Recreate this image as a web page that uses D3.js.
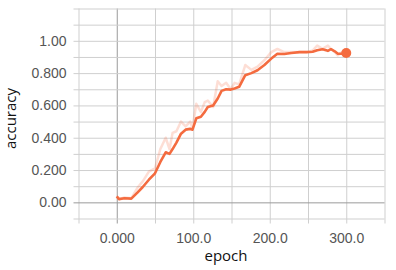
<!DOCTYPE html>
<html>
<head>
<meta charset="utf-8">
<script src="https://cdn.jsdelivr.net/npm/d3@7"></script>
<style>
	body { margin: 0; background: #fff; }
	svg text { font-family: "Liberation Sans", Arial, sans-serif; }
</style>
</head>
<body>
<div id="chart"></div>
<script>
	// values
	var epochs = [0, 3, 10, 19, 27, 34, 42, 50, 57, 64, 69, 73, 78, 84, 90, 96, 99, 104, 110, 115, 119, 126, 132, 137, 143, 149, 154, 160, 168, 176, 184, 193, 202, 210, 219, 228, 239, 248, 256, 262, 269, 276, 280, 285, 289, 294, 300];
	var smoothed = [0.037, 0.02, 0.025, 0.023, 0.06, 0.095, 0.14, 0.18, 0.25, 0.31, 0.30, 0.33, 0.37, 0.425, 0.45, 0.455, 0.45, 0.52, 0.53, 0.56, 0.59, 0.60, 0.643, 0.69, 0.70, 0.698, 0.705, 0.715, 0.787, 0.80, 0.818, 0.85, 0.89, 0.92, 0.918, 0.925, 0.93, 0.93, 0.932, 0.942, 0.948, 0.938, 0.948, 0.935, 0.92, 0.92, 0.925];
	var raw = [0.037, 0.02, 0.03, 0.025, 0.09, 0.13, 0.19, 0.21, 0.33, 0.40, 0.33, 0.43, 0.44, 0.50, 0.47, 0.50, 0.46, 0.61, 0.56, 0.62, 0.63, 0.59, 0.75, 0.72, 0.74, 0.70, 0.74, 0.73, 0.85, 0.82, 0.84, 0.88, 0.93, 0.95, 0.93, 0.93, 0.93, 0.93, 0.94, 0.97, 0.95, 0.97, 0.95, 0.93, 0.91, 0.93, 0.925];

	var xGrid = [-50, 0, 50, 100, 150, 200, 250, 300, 350];
	var xLabels = { 0: "0.000", 100: "100.0", 200: "200.0", 300: "300.0" };
	var yGrid = [-0.1, 0, 0.1, 0.2, 0.3, 0.4, 0.5, 0.6, 0.7, 0.8, 0.9, 1.0, 1.1, 1.2];
	var yLabels = { "0.0": "0.00", "0.2": "0.200", "0.4": "0.400", "0.6": "0.600", "0.8": "0.800", "1.0": "1.00" };

	var width = 396, height = 270;
	var color = "#f46b3f";

	var svg = d3.select("#chart").append("svg")
		.attr("width", width).attr("height", height);

	var x = d3.scaleLinear().domain([-50, 350]).range([78.5, 384.5]);
	var y = d3.scaleLinear().domain([-0.1, 1.2]).range([218.5, 8.5]);

	// vertical grid (ticks hang 5px below)
	var xAxis = svg.append("g")
		.attr("transform", "translate(0," + y(1.2) + ")")
		.call(d3.axisBottom(x).tickValues(xGrid)
			.tickSize(y(-0.1) - y(1.2) + 5)
			.tickFormat(function (d) { return xLabels[d] || ""; }));
	xAxis.select(".domain").remove();
	xAxis.selectAll(".tick line")
		.attr("stroke", function (d) { return d === 0 ? "#9a9a9a" : "#cfcfcf"; });
	xAxis.selectAll(".tick text")
		.attr("y", 243 - y(1.2)).attr("dy", 0)
		.attr("fill", "#555").style("font-size", "14px");

	// horizontal grid (ticks stick out 5px on the left)
	var yAxis = svg.append("g")
		.attr("transform", "translate(" + x(350) + ",0)")
		.call(d3.axisLeft(y).tickValues(yGrid)
			.tickSize(x(350) - x(-50) + 5)
			.tickFormat(function (d) { return yLabels[d.toFixed(1)] || ""; }));
	yAxis.select(".domain").remove();
	yAxis.selectAll(".tick line")
		.attr("stroke", function (d) { return Math.abs(d) < 1e-9 ? "#9a9a9a" : "#cfcfcf"; });
	yAxis.selectAll(".tick text")
		.attr("x", 66.5 - x(350))
		.attr("fill", "#555").style("font-size", "14px");

	var pts = epochs.map(function (e, i) { return { e: e, s: smoothed[i], r: raw[i] }; });

	var lineRaw = d3.line().x(function (d) { return x(d.e); }).y(function (d) { return y(d.r); });
	var lineSm = d3.line().x(function (d) { return x(d.e); }).y(function (d) { return y(d.s); });

	svg.append("path").datum(pts)
		.attr("d", lineRaw)
		.attr("fill", "none").attr("stroke", color)
		.attr("stroke-opacity", 0.22).attr("stroke-width", 2.5)
		.attr("stroke-linejoin", "round");

	svg.append("path").datum(pts)
		.attr("d", lineSm)
		.attr("fill", "none").attr("stroke", color)
		.attr("stroke-width", 2.6).attr("stroke-linejoin", "round");

	var last = pts[pts.length - 1];
	svg.append("circle")
		.attr("cx", x(last.e)).attr("cy", y(last.s))
		.attr("r", 5).attr("fill", color);

	svg.append("text")
		.attr("x", 226).attr("y", 261)
		.attr("text-anchor", "middle")
		.style("font-family", "'Open Sans', sans-serif")
		.style("font-size", "15px").attr("fill", "#111")
		.text("epoch");

	svg.append("text")
		.attr("transform", "translate(16,118.5) rotate(-90)")
		.attr("text-anchor", "middle")
		.style("font-family", "'Open Sans', sans-serif")
		.style("font-size", "15px").attr("fill", "#111")
		.text("accuracy");
</script>
</body>
</html>
